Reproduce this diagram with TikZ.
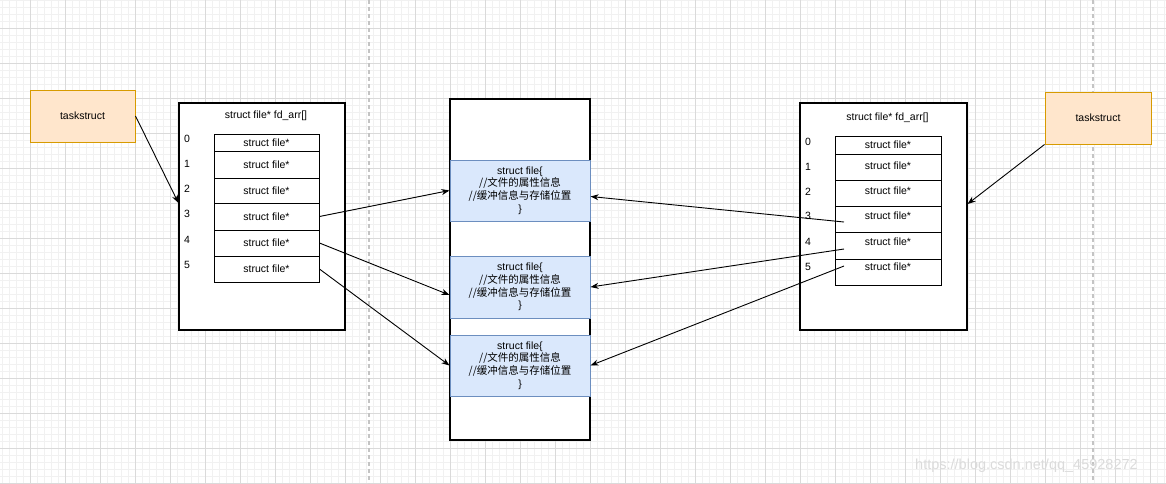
\documentclass[tikz,border=0pt]{standalone}
\usepackage{fontspec}
\setmainfont{Liberation Sans}
\newfontfamily\cjk{Noto Sans CJK SC}
\usetikzlibrary{arrows.meta,calc}
\definecolor{gridminor}{HTML}{F1F1F1}
\definecolor{gridmajor}{HTML}{DADADA}
\definecolor{taskfill}{HTML}{FFE6CC}
\definecolor{taskdraw}{HTML}{D79B00}
\definecolor{filefill}{HTML}{DAE8FC}
\definecolor{filedraw}{HTML}{6C8EBF}
\begin{document}
\begin{tikzpicture}[x=1pt,y=-1pt,
  every node/.style={font=\fontsize{10.5}{12.8}\selectfont, inner sep=0pt},
  taskbox/.style={draw=taskdraw, fill=taskfill, line width=1pt, minimum width=105pt, minimum height=52pt},
  outerbox/.style={draw=black, line width=1.1pt, fill=white},
  cellbox/.style={draw=black, line width=0.9pt, fill=white, minimum width=105pt},
  filebox/.style={draw=filedraw, fill=filefill, line width=1pt, minimum width=140pt, align=center},
  idx/.style={anchor=center},
  conn/.style={draw=black, line width=0.9pt, -{Stealth[length=8pt,width=6pt,inset=2.5pt]}}
]
\useasboundingbox (0,0) rectangle (1166,483);
\fill[white] (0,0) rectangle (1166,483);
% grid
\foreach \x in {2,9,...,1166} \draw[gridminor, line width=0.8pt] (\x,0) -- (\x,483);
\foreach \y in {0,7,...,483} \draw[gridminor, line width=0.8pt] (0,\y) -- (1166,\y);
\foreach \x in {30,65,...,1166} \draw[gridmajor, line width=0.9pt] (\x,0) -- (\x,483);
\foreach \y in {28,63,...,483} \draw[gridmajor, line width=0.9pt] (0,\y) -- (1166,\y);
\draw[gridmajor!90!black, line width=1.4pt, dash pattern=on 4pt off 3pt] (369,0) -- (369,483);
\draw[gridmajor!90!black, line width=1.4pt, dash pattern=on 4pt off 3pt] (1093,0) -- (1093,483);

% left side
\node[taskbox] (lts) at (82.5,116) {taskstruct};
\node[outerbox, minimum width=166pt, minimum height=227pt] (lo) at (262,216.5) {};
\node (ltitle) at (266,116) {struct file* fd\_arr[]};
\node[cellbox, minimum height=17pt] (l0) at (266.5,142.5) {struct file*};
\node[cellbox, minimum height=27pt] (l1) at (266.5,164.5) {struct file*};
\node[cellbox, minimum height=25pt] (l2) at (266.5,190.5) {struct file*};
\node[cellbox, minimum height=27pt] (l3) at (266.5,216.5) {struct file*};
\node[cellbox, minimum height=26pt] (l4) at (266.5,243) {struct file*};
\node[cellbox, minimum height=26pt] (l5) at (266.5,269) {struct file*};
\node[idx] (li0) at (187,139) {0};
\node[idx] (li1) at (187,164) {1};
\node[idx] (li2) at (187,189) {2};
\node[idx] (li3) at (187,214) {3};
\node[idx] (li4) at (187,240) {4};
\node[idx] (li5) at (187,265) {5};

% middle
\node[outerbox, minimum width=140pt, minimum height=341pt] (mo) at (520,269.5) {};
\node[filebox, minimum height=61pt] (b1) at (520,190.5) {struct file\{\\{\cjk //文件的属性信息}\\{\cjk //缓冲信息与存储位置}\\\}};
\node[filebox, minimum height=62pt] (b2) at (520,287) {struct file\{\\{\cjk //文件的属性信息}\\{\cjk //缓冲信息与存储位置}\\\}};
\node[filebox, minimum height=61pt] (b3) at (520,365.5) {struct file\{\\{\cjk //文件的属性信息}\\{\cjk //缓冲信息与存储位置}\\\}};

% right side
\node[taskbox, minimum width=106pt] (rts) at (1098,118) {taskstruct};
\node[outerbox, minimum width=167pt, minimum height=227pt] (ro) at (883.5,216.5) {};
\node (rtitle) at (887.5,118) {struct file* fd\_arr[]};
\node[cellbox, minimum width=106pt, minimum height=18pt] (r0) at (888,145) {struct file*};
\node[cellbox, minimum width=106pt, minimum height=26pt] (r1) at (888,167) {};
\node[cellbox, minimum width=106pt, minimum height=26pt] (r2) at (888,193) {};
\node[cellbox, minimum width=106pt, minimum height=26pt] (r3) at (888,219) {};
\node[cellbox, minimum width=106pt, minimum height=27pt] (r4) at (888,245.5) {};
\node[cellbox, minimum width=106pt, minimum height=26pt] (r5) at (888,272) {};
\node (rt1) at (888,166) {struct file*};
\node (rt2) at (888,191) {struct file*};
\node (rt3) at (888,216) {struct file*};
\node (rt4) at (888,242) {struct file*};
\node (rt5) at (888,267) {struct file*};
\node[idx] (ri0) at (808,142) {0};
\node[idx] (ri1) at (808,167) {1};
\node[idx] (ri2) at (808,192) {2};
\node[idx] (ri3) at (808,216) {3};
\node[idx] (ri4) at (808,242) {4};
\node[idx] (ri5) at (808,267) {5};

% connector end points
\coordinate (la) at ($(lo.west)+(0,-13.5)$);
\coordinate (ra) at ($(ro.east)+(0,-12.5)$);
\coordinate (s3) at (844,222);
\coordinate (s4) at (844,249);
\coordinate (s5) at (844,266);
\coordinate (b2in) at ($(b2.west)+(0,8)$);
\coordinate (b1in) at ($(b1.east)+(0,6)$);

% connectors
\draw[conn] (lts.east) -- (la);
\draw[conn] (l3.east) -- (b1.west);
\draw[conn] (l4.east) -- (b2in);
\draw[conn] (l5.east) -- (b3.west);
\draw[conn] (s3) -- (b1in);
\draw[conn] (s4) -- (b2.east);
\draw[conn] (s5) -- (b3.east);
\draw[conn] (rts.south west) -- (ra);

% watermark
\node[text=black!14, font=\fontsize{14.5}{16}\selectfont, anchor=west] (wm) at (915,466) {https://blog.csdn.net/qq\_45928272};
\end{tikzpicture}
\end{document}
